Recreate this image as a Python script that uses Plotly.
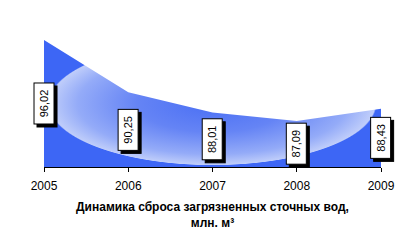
import plotly.graph_objects as go

years = ["2005", "2006", "2007", "2008", "2009"]
values = [96.02, 90.25, 88.01, 87.09, 88.43]
labels = ["96,02", "90,25", "88,01", "87,09", "88,43"]
title_text = "Динамика сброса загрязненных сточных вод,<br>млн. м³"

Y_MIN = 82
Y_MAX = 99.33

x_idx = list(range(len(years)))

fig = go.Figure()
fig.add_trace(go.Scatter(
    x=x_idx, y=[Y_MIN] * len(years), mode="lines",
    line=dict(width=0, color="rgba(0,0,0,0)"), hoverinfo="skip", showlegend=False,
))
fig.add_trace(go.Scatter(
    x=x_idx, y=values, mode="lines", fill="tonexty",
    line=dict(width=0, color="rgba(0,0,0,0)"),
    fillgradient=dict(
        type="radial",
        colorscale=[
            [0.0, "#4a6ff4"],
            [0.45, "#6584f5"],
            [0.8, "#94abf8"],
            [0.965, "#bfcdfa"],
            [0.975, "#3d66f5"],
            [1.0, "#3d66f5"],
        ],
    ),
    showlegend=False,
))

anns = []
for i, (v, lab) in enumerate(zip(values, labels)):
    ym = (v + Y_MIN) / 2
    common = dict(x=i, y=ym, xref="x", yref="y", showarrow=False, textangle=-90,
                  width=40, height=19, borderpad=0, borderwidth=1,
                  font=dict(family="Liberation Sans, Arial", size=11, color="black"))
    anns.append(dict(text=lab, bgcolor="black", bordercolor="black", xshift=3, yshift=-3, **common))
    anns.append(dict(text=lab, bgcolor="white", bordercolor="black", **common))

fig.update_layout(
    width=408, height=247,
    margin=dict(l=44, r=27, t=10, b=80),
    paper_bgcolor="white", plot_bgcolor="white",
    showlegend=False,
    annotations=anns,
    xaxis=dict(
        range=[0, len(years) - 1],
        tickmode="array", tickvals=x_idx, ticktext=years,
        showline=True, linecolor="black", linewidth=1,
        ticks="outside", ticklen=4, tickcolor="black",
        ticklabelstandoff=4,
        showgrid=False, zeroline=False,
        tickfont=dict(family="Liberation Sans, Arial", size=12, color="black"),
        title=dict(text="<b>" + title_text + "</b>", standoff=10,
                   font=dict(family="Liberation Sans, Arial", size=12, color="black")),
    ),
    yaxis=dict(range=[Y_MIN, Y_MAX], visible=False, showgrid=False),
)

fig.write_html("out.html")
